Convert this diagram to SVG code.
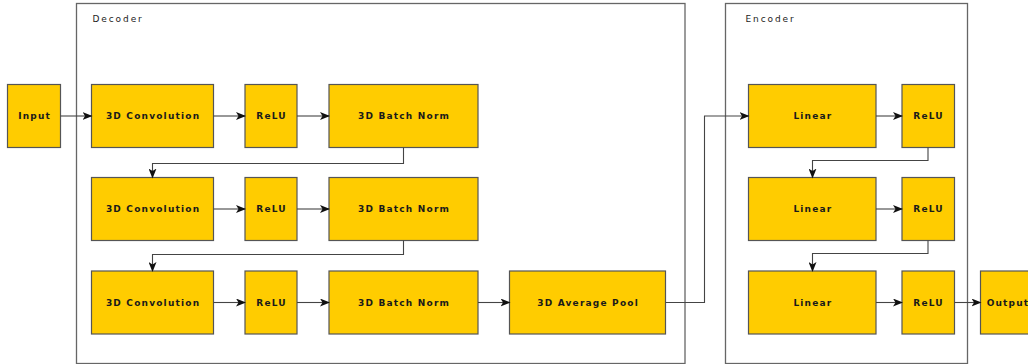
<svg xmlns="http://www.w3.org/2000/svg" width="1028" height="364" viewBox="0 0 1028 364">
<style>
.frame{fill:#fff;stroke:#666;stroke-width:1.3}
.n{fill:#ffcc00;stroke:#555;stroke-width:1.2}
.t{font-family:"DejaVu Sans",sans-serif;font-size:9px;font-weight:bold;letter-spacing:1.2px;fill:#1a1a1a;text-anchor:middle}
.lbl{font-family:"DejaVu Sans",sans-serif;font-size:9px;letter-spacing:1.9px;fill:#222}
.c{fill:none;stroke:#444;stroke-width:1.1;marker-end:url(#ah)}
</style>
<defs>
<marker id="ah" markerWidth="10" markerHeight="8" refX="9" refY="4" orient="auto" markerUnits="userSpaceOnUse">
<path d="M0,0 L10,4 L0,8 L2.5,4 Z" fill="#111"/>
</marker>
</defs>
<rect width="1028" height="364" fill="#fff"/>
<g id="decoder"><rect class="frame" x="76.5" y="3.5" width="608.5" height="360"/><text class="lbl" x="92.5" y="22">Decoder</text></g>
<g id="encoder"><rect class="frame" x="725.5" y="3.5" width="242" height="360"/><text class="lbl" x="745.5" y="22">Encoder</text></g>

<g id="input"><rect class="n" x="7.5" y="84.5" width="53" height="63"/><text class="t" x="34.6" y="119">Input</text></g>
<g id="conv1"><rect class="n" x="91.5" y="84.5" width="122" height="63"/><text class="t" x="153.1" y="119">3D Convolution</text></g>
<g id="relu1"><rect class="n" x="245" y="84.5" width="52" height="63"/><text class="t" x="271.6" y="119">ReLU</text></g>
<g id="bn1"><rect class="n" x="329" y="84.5" width="149" height="63"/><text class="t" x="404.1" y="119">3D Batch Norm</text></g>

<g id="conv2"><rect class="n" x="91.5" y="177.5" width="122" height="63"/><text class="t" x="153.1" y="212">3D Convolution</text></g>
<g id="relu2"><rect class="n" x="245" y="177.5" width="52" height="63"/><text class="t" x="271.6" y="212">ReLU</text></g>
<g id="bn2"><rect class="n" x="329" y="177.5" width="149" height="63"/><text class="t" x="404.1" y="212">3D Batch Norm</text></g>

<g id="conv3"><rect class="n" x="91.5" y="271" width="122" height="63"/><text class="t" x="153.1" y="305.5">3D Convolution</text></g>
<g id="relu3"><rect class="n" x="245" y="271" width="52" height="63"/><text class="t" x="271.6" y="305.5">ReLU</text></g>
<g id="bn3"><rect class="n" x="329" y="271" width="149" height="63"/><text class="t" x="404.1" y="305.5">3D Batch Norm</text></g>
<g id="avgpool"><rect class="n" x="509.5" y="271" width="156" height="63"/><text class="t" x="588.1" y="305.5">3D Average Pool</text></g>

<g id="lin1"><rect class="n" x="748.5" y="84.5" width="127.5" height="63"/><text class="t" x="812.9" y="119">Linear</text></g>
<g id="erelu1"><rect class="n" x="902" y="84.5" width="52.5" height="63"/><text class="t" x="928.6" y="119">ReLU</text></g>
<g id="lin2"><rect class="n" x="748.5" y="177.5" width="127.5" height="63"/><text class="t" x="812.9" y="212">Linear</text></g>
<g id="erelu2"><rect class="n" x="902" y="177.5" width="52.5" height="63"/><text class="t" x="928.6" y="212">ReLU</text></g>
<g id="lin3"><rect class="n" x="748.5" y="271" width="127.5" height="63"/><text class="t" x="812.9" y="305.5">Linear</text></g>
<g id="erelu3"><rect class="n" x="902" y="271" width="52.5" height="63"/><text class="t" x="928.6" y="305.5">ReLU</text></g>
<g id="output"><rect class="n" x="980.5" y="271" width="60" height="63"/><text class="t" x="1008" y="305.5">Output</text></g>

<g id="connectors">
<path class="c" d="M60.5,116 H91.5"/>
<path class="c" d="M213.5,116 H245"/>
<path class="c" d="M297,116 H329"/>
<path class="c" d="M403.5,147.5 V163.5 H152.5 V177.5"/>
<path class="c" d="M213.5,209 H245"/>
<path class="c" d="M297,209 H329"/>
<path class="c" d="M403.5,240.5 V254.5 H152.5 V271"/>
<path class="c" d="M213.5,302.5 H245"/>
<path class="c" d="M297,302.5 H329"/>
<path class="c" d="M478,302.5 H509.5"/>
<path class="c" d="M665.5,302.5 H704.5 V116 H748.5"/>
<path class="c" d="M876,116 H902"/>
<path class="c" d="M928,147.5 V160.5 H812.5 V177.5"/>
<path class="c" d="M876,209 H902"/>
<path class="c" d="M928,240.5 V253.5 H812.5 V271"/>
<path class="c" d="M876,302.5 H902"/>
<path class="c" d="M954.5,302.5 H980.5"/>
</g>
</svg>
